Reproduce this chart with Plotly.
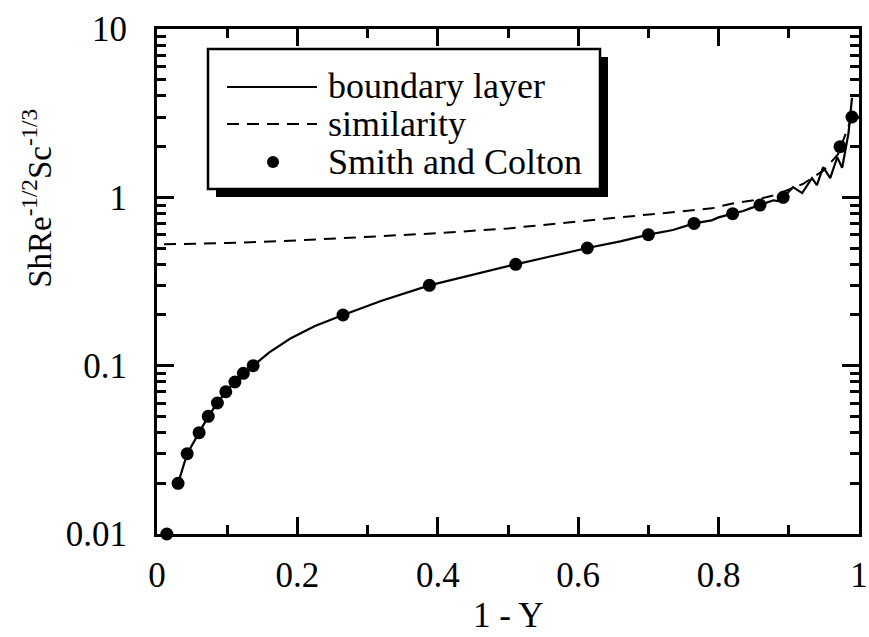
import plotly.graph_objects as go

# Boundary layer solution (solid line)
bl_x = [0.030, 0.043, 0.060, 0.073, 0.086, 0.098, 0.111, 0.123, 0.137, 0.160, 0.190, 0.225,
        0.265, 0.320, 0.388, 0.450, 0.511, 0.560, 0.613, 0.660, 0.700, 0.735, 0.765, 0.790,
        0.800, 0.820, 0.835, 0.845, 0.859, 0.870, 0.878, 0.885, 0.892, 0.906, 0.919, 0.933,
        0.940, 0.949, 0.959, 0.969, 0.976, 0.985, 0.990]
bl_y = [0.020, 0.030, 0.040, 0.050, 0.060, 0.070, 0.080, 0.090, 0.100, 0.120, 0.145, 0.172,
        0.200, 0.243, 0.300, 0.348, 0.400, 0.445, 0.500, 0.548, 0.600, 0.640, 0.700, 0.730,
        0.760, 0.800, 0.830, 0.860, 0.900, 0.935, 0.960, 0.950, 1.000, 1.150, 1.060, 1.300,
        1.180, 1.510, 1.300, 1.730, 1.500, 2.400, 3.900]

# Similarity solution (dashed line)
sim_x = [0.010, 0.100, 0.200, 0.300, 0.400, 0.500, 0.600, 0.700, 0.757, 0.790, 0.820,
         0.850, 0.880, 0.920, 0.950, 0.970, 0.990]
sim_y = [0.526, 0.535, 0.555, 0.580, 0.612, 0.654, 0.720, 0.790, 0.830, 0.860, 0.920,
         0.960, 1.030, 1.200, 1.450, 1.800, 3.000]

# Smith and Colton data (points)
sc_x = [0.014, 0.030, 0.043, 0.060, 0.073, 0.086, 0.098, 0.111, 0.123, 0.137, 0.265,
        0.388, 0.511, 0.613, 0.700, 0.765, 0.820, 0.859, 0.892, 0.973, 0.990]
sc_y = [0.01, 0.02, 0.03, 0.04, 0.05, 0.06, 0.07, 0.08, 0.09, 0.10, 0.20,
        0.30, 0.40, 0.50, 0.60, 0.70, 0.80, 0.90, 1.00, 2.00, 3.00]

x_ticks = [0, 0.2, 0.4, 0.6, 0.8, 1]
x_ticktext = ["0", "0.2", "0.4", "0.6", "0.8", "1"]
y_ticks = [0.01, 0.1, 1, 10]
y_ticktext = ["0.01", "0.1", "1", "10"]
y_minor = [m * 10 ** e for e in (-2, -1, 0) for m in range(2, 10)]

FONT = "Liberation Serif"
FS = 35

fig = go.Figure()
fig.add_trace(go.Scatter(x=bl_x, y=bl_y, mode="lines", name="boundary layer",
                         line=dict(color="black", width=2.2), showlegend=False))
fig.add_trace(go.Scatter(x=sim_x, y=sim_y, mode="lines", name="similarity",
                         line=dict(color="black", width=2, dash="12px,8px"), showlegend=False))
fig.add_trace(go.Scatter(x=sc_x, y=sc_y, mode="markers", name="Smith and Colton",
                         marker=dict(color="black", size=13), cliponaxis=False, showlegend=False))

axis_common = dict(showline=True, linecolor="black", linewidth=3, mirror="ticks",
                   ticks="inside", ticklen=17, tickwidth=2.5, tickcolor="black",
                   showgrid=False, zeroline=False, automargin=False,
                   tickfont=dict(family=FONT, size=FS, color="black"))

fig.update_xaxes(range=[0, 1], tickvals=x_ticks, ticktext=x_ticktext, ticklabelstandoff=8,
                 minor=dict(dtick=0.1, ticks="inside", ticklen=9, tickwidth=2.5, tickcolor="black",
                            showgrid=False),
                 **axis_common)
fig.update_yaxes(type="log", range=[-2, 1], tickvals=y_ticks, ticktext=y_ticktext,
                 ticklabelstandoff=20,
                 minor=dict(tickvals=y_minor, ticks="inside", ticklen=9, tickwidth=2.5,
                            tickcolor="black", showgrid=False),
                 **axis_common)

W, H = 702.0, 505.0
def px(x):
    return (x - 157) / W
def py(y):
    return (534 - y) / H

annotations = [
    # y-axis title
    dict(text="ShRe<sup>-1/2</sup>Sc<sup>-1/3</sup>", xref="paper", yref="paper",
         x=-0.17, y=0.665, textangle=-90, showarrow=False, xanchor="center",
         yanchor="middle", font=dict(family=FONT, size=33, color="black")),
    # x-axis title
    dict(text="1 - Y", xref="paper", yref="paper", x=px(508), y=py(637),
         showarrow=False, xanchor="center", yanchor="bottom",
         font=dict(family=FONT, size=FS, color="black")),
]

# Manual legend (box with shadow)
shapes = []
shapes.append(dict(type="rect", xref="paper", yref="paper", x0=px(216), x1=px(608),
                   y0=py(197), y1=py(57), fillcolor="black", line=dict(width=0), layer="above"))
shapes.append(dict(type="rect", xref="paper", yref="paper", x0=px(208), x1=px(600),
                   y0=py(189), y1=py(49), fillcolor="white",
                   line=dict(color="black", width=2.5), layer="above"))
shapes.append(dict(type="line", xref="paper", yref="paper", x0=px(227), x1=px(317),
                   y0=py(87), y1=py(87), line=dict(color="black", width=2), layer="above"))
shapes.append(dict(type="line", xref="paper", yref="paper", x0=px(227), x1=px(317),
                   y0=py(124), y1=py(124), line=dict(color="black", width=2, dash="12px,8px"),
                   layer="above"))
shapes.append(dict(type="circle", xref="paper", yref="paper", x0=px(267), x1=px(279),
                   y0=py(168), y1=py(156), fillcolor="black", line=dict(width=0), layer="above"))

for label, yy in [("boundary layer", 86), ("similarity", 124), ("Smith and Colton", 162)]:
    annotations.append(dict(text=label, xref="paper", yref="paper", x=px(326), y=py(yy),
                            xanchor="left", yanchor="middle", showarrow=False,
                            font=dict(family=FONT, size=36, color="black")))

fig.update_layout(width=869, height=637, margin=dict(l=157, r=10, t=29, b=103),
                  plot_bgcolor="white", paper_bgcolor="white",
                  shapes=shapes, annotations=annotations, showlegend=False)

fig.write_html("out.html")
